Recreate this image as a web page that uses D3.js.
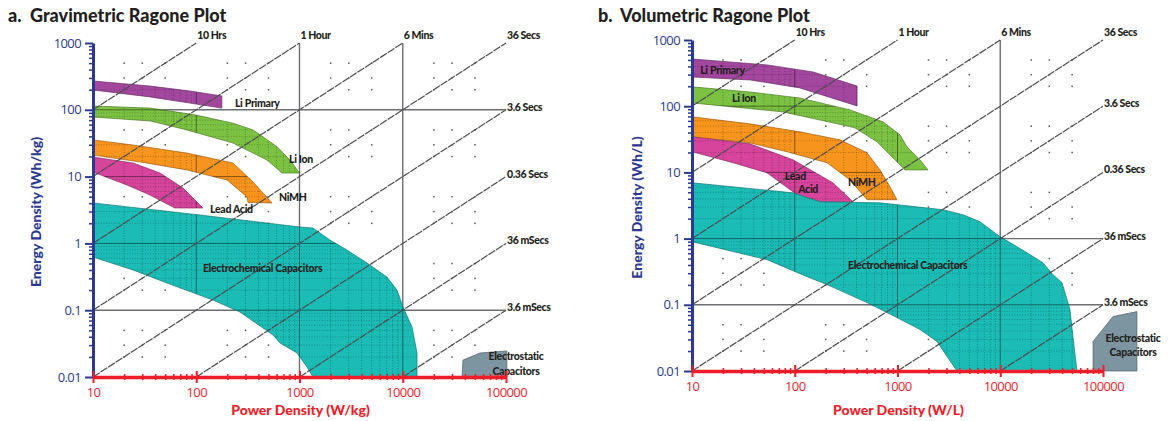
<!DOCTYPE html>
<html>
<head>
<meta charset="utf-8">
<script src="https://cdn.jsdelivr.net/npm/d3@7"></script>
<style>
  body { margin: 0; background: #fff; }
  svg text { font-family: Lato, "Open Sans", sans-serif; }
</style>
</head>
<body>
<script>
// axis ticks
const xTicks = [10, 100, 1000, 10000, 100000];
const xTickLabels = ["10", "100", "1000", "10000", "100000"];
const yTicks = [0.01, 0.1, 1, 10, 100, 1000];
const yTickLabels = ["0.01", "0.1", "1", "10", "100", "1000"];

// discharge time lines, in hours (E = t * P)
const times = [10, 1, 0.1, 0.01, 0.001, 1e-4, 1e-5, 1e-6];
const timeLabels = ["10 Hrs", "1 Hour", "6 Mins", "36 Secs", "3.6 Secs", "0.36 Secs", "36 mSecs", "3.6 mSecs"];

// gravimetric regions, [W/kg, Wh/kg]
const gLiPrimary = [[10,270],[35.6,227],[87,191],[177,161],[177,106],[87,126],[35.6,156],[10,198]];
const gLiIon = [[10,114],[36,106],[97,84],[227,63],[355,50],[606,28],[809,17.7],[1000,11.3],[677,11.3],[485,17.7],[227,31.8],[81,50],[36,68],[10,78]];
const gNiMH = [[10,35.3],[24.4,29.7],[81,22.5],[227,16],[355,8.3],[542,4.03],[317,4.1],[310,4.95],[199,8.9],[81,12.6],[28.5,16.6],[10,21]];
const gLeadAcid = [[10,19.6],[24.4,16],[44.6,11.3],[74.5,6.74],[116,3.39],[62,3.39],[35.6,5.3],[21.3,7.5],[10,11.7]];
const gEC = [[10,4.03],[109,2.66],[1012,1.76],[1352,1.7],[1974,1.12],[2882,0.796],[4505,0.509],[7035,0.314],[8790,0.2],[10050,0.112],[12300,0.056],[13750,0.0229],[13750,0.01],
             [1352,0.01],[1183,0.0141],[946,0.0229],[647,0.0323],[554,0.0425],[265,0.094],[145,0.142],[52,0.255],[24.4,0.4],[10,0.625]];
const gES = [[37500,0.01],[38300,0.0179],[56000,0.0229],[102000,0.0245],[102000,0.01]];

// volumetric regions, [W/L, Wh/L]
const vLiPrimary = [[10,517],[54,420],[151,329],[404,202],[404,101],[112,189],[37,249],[10,277]];
const vLiIon = [[10,196],[36.6,164],[112,133],[345,88],[723,58],[1057,36.9],[1237,24.3],[1654,15.5],[1981,10.9],[1183,10.9],[904,16.6],[631,29],[385,47.1],[235,56],[77,82],[25,97.6],[10,112]];
const vNiMH = [[10,69],[36.6,54.1],[112,41],[275,31],[505,19.8],[676,10.9],[846,6.06],[988,3.87],[505,3.87],[345,7.7],[206,14],[84,20.5],[36.6,27.9],[10,34.4]];
const vLeadAcid = [[10,34.4],[36.6,27],[96,15.5],[235,6.97],[369,3.6],[132,3.6],[96,5.1],[53.7,9.86],[25.1,14],[10,20.5]];
const vEC = [[10,6.97],[96,4.92],[176,3.6],[676,3.47],[2773,2.73],[4339,2.29],[6350,1.8],[9950,1.07],[18200,0.612],[26000,0.433],[32600,0.285],[39900,0.216],[47700,0.0847],[51000,0.0331],[55800,0.01],
             [3790,0.01],[3030,0.0166],[2424,0.0279],[1654,0.0423],[988,0.0641],[505,0.108],[206,0.202],[132,0.266],[53.7,0.481],[10,0.898]];
const vES = [[80000,0.01],[80000,0.0279],[125000,0.0664],[214000,0.0789],[214000,0.01]];

const colors = {
  "Li Primary": "#a3469e",
  "Li Ion": "#7cc242",
  "NiMH": "#f7941d",
  "Lead Acid": "#d6449c",
  "EC": "#1bbcb5",
  "ES": "#7d94a1"
};

const navy = "#2b3990";
const red = "#ee1d2a";

const svg = d3.select("body").append("svg")
  .attr("width", 1171)
  .attr("height", 421);
const defs = svg.append("defs");

const panels = [
  {
    key: "a", letter: "a.", title: "Gravimetric Ragone Plot",
    xTitle: "Power Density (W/kg)", yTitle: "Energy Density (Wh/kg)",
    left: 93, right: 506, top: 43, bottom: 377, titleX: 8, yTitleX: 36,
    vLines: [1000, 10000], hLines: [100, 0.1],
    regions: [
      { name: "Li Primary", pts: gLiPrimary, grid: true },
      { name: "Li Ion", pts: gLiIon, grid: true },
      { name: "NiMH", pts: gNiMH, grid: true },
      { name: "Lead Acid", pts: gLeadAcid, grid: true },
      { name: "EC", pts: gEC, grid: true },
      { name: "ES", pts: gES, grid: false }
    ],
    labels: [
      { text: "Li Primary", at: [237, 126], anchor: "start" },
      { text: "Li Ion", at: [791, 18.3], anchor: "start" },
      { text: "NiMH", at: [632, 4.95], anchor: "start" },
      { text: "Lead Acid", at: [136, 3.27], anchor: "start" },
      { text: "Electrochemical Capacitors", at: [116, 0.43], anchor: "start" },
      { text: "Electrostatic", at: [125000, 0.0202], anchor: "middle" },
      { text: "Capacitors", at: [125000, 0.0123], anchor: "middle" }
    ]
  },
  {
    key: "b", letter: "b.", title: "Volumetric Ragone Plot",
    xTitle: "Power Density (W/L)", yTitle: "Energy Density (Wh/L)",
    left: 692, right: 1103, top: 40, bottom: 371, titleX: 598, yTitleX: 637,
    vLines: [10000], hLines: [1, 0.1],
    regions: [
      { name: "Li Primary", pts: vLiPrimary, grid: true },
      { name: "Li Ion", pts: vLiIon, grid: true },
      { name: "NiMH", pts: vNiMH, grid: true },
      { name: "Lead Acid", pts: vLeadAcid, grid: true },
      { name: "EC", pts: vEC, grid: true },
      { name: "ES", pts: vES, grid: false }
    ],
    labels: [
      { text: "Li Primary", at: [12, 353], anchor: "start" },
      { text: "Li Ion", at: [24.5, 133], anchor: "start" },
      { text: "NiMH", at: [330, 7.2], anchor: "start" },
      { text: "Lead", at: [80, 8.6], anchor: "start" },
      { text: "Acid", at: [108, 5.5], anchor: "start" },
      { text: "Electrochemical Capacitors", at: [330, 0.4], anchor: "start" },
      { text: "Electrostatic", at: [196000, 0.031], anchor: "middle" },
      { text: "Capacitors", at: [196000, 0.019], anchor: "middle" }
    ]
  }
];

const decadesX = [10, 100, 1000, 10000];
const decadesY = [0.01, 0.1, 1, 10, 100];
const minorsX = decadesX.flatMap(d => d3.range(2, 10).map(m => m * d));
const minorsY = decadesY.flatMap(d => d3.range(2, 10).map(m => m * d));

function drawPanel(p) {
  const x = d3.scaleLog().domain([10, 1e5]).range([p.left, p.right]);
  const y = d3.scaleLog().domain([0.01, 1000]).range([p.bottom, p.top]);
  const line = d3.line().x(d => x(d[0])).y(d => y(d[1]));
  const g = svg.append("g");

  // sparse grid dots
  const dotX = decadesX.flatMap(d => [2, 3, 5].map(m => m * d));
  const dotY = decadesY.flatMap(d => [2, 3, 5].map(m => m * d));
  g.append("g").selectAll("rect")
    .data(d3.cross(dotX, dotY))
    .join("rect")
    .attr("x", d => x(d[0]) - 0.7)
    .attr("y", d => y(d[1]) - 0.7)
    .attr("width", 1.5)
    .attr("height", 1.5)
    .attr("fill", "#555");

  // solid grid lines
  g.append("g").selectAll("line")
    .data(p.vLines)
    .join("line")
    .attr("x1", d => x(d)).attr("x2", d => x(d))
    .attr("y1", y(1000)).attr("y2", y(0.01))
    .attr("stroke", "#6d6e71").attr("stroke-width", 1.4);
  g.append("g").selectAll("line")
    .data(p.hLines)
    .join("line")
    .attr("x1", x(10)).attr("x2", x(1e5))
    .attr("y1", d => y(d)).attr("y2", d => y(d))
    .attr("stroke", "#6d6e71").attr("stroke-width", 1.4);

  // regions
  g.append("g").selectAll("path")
    .data(p.regions)
    .join("path")
    .attr("d", r => line(r.pts) + "Z")
    .attr("fill", r => colors[r.name])
    .attr("stroke", r => d3.color(colors[r.name]).darker(1.2))
    .attr("stroke-width", 0.7);

  // grid seen through the regions
  const clipId = "clip-" + p.key;
  defs.append("clipPath").attr("id", clipId)
    .selectAll("path")
    .data(p.regions.filter(r => r.grid))
    .join("path")
    .attr("d", r => line(r.pts) + "Z");

  const inner = g.append("g").attr("clip-path", `url(#${clipId})`);
  inner.selectAll(".mx")
    .data(minorsX)
    .join("line")
    .attr("x1", d => x(d)).attr("x2", d => x(d))
    .attr("y1", y(1000)).attr("y2", y(0.01))
    .attr("stroke", "rgba(0,0,0,0.35)").attr("stroke-width", 0.8)
    .attr("stroke-dasharray", "1,1.6");
  inner.selectAll(".my")
    .data(minorsY)
    .join("line")
    .attr("x1", x(10)).attr("x2", x(1e5))
    .attr("y1", d => y(d)).attr("y2", d => y(d))
    .attr("stroke", "rgba(0,0,0,0.3)").attr("stroke-width", 0.8)
    .attr("stroke-dasharray", "1,1.6");
  inner.selectAll(".dx")
    .data(xTicks)
    .join("line")
    .attr("x1", d => x(d)).attr("x2", d => x(d))
    .attr("y1", y(1000)).attr("y2", y(0.01))
    .attr("stroke", "rgba(0,0,0,0.45)").attr("stroke-width", 1);
  inner.selectAll(".dy")
    .data(yTicks)
    .join("line")
    .attr("x1", x(10)).attr("x2", x(1e5))
    .attr("y1", d => y(d)).attr("y2", d => y(d))
    .attr("stroke", "rgba(0,0,0,0.45)").attr("stroke-width", 1);

  // constant discharge time lines
  const diag = times.map((t, i) => {
    const p0 = Math.max(10, 0.01 / t);
    const p1 = Math.min(1e5, 1000 / t);
    return { t, label: timeLabels[i], pts: [[p0, t * p0], [p1, t * p1]], top: t * 1e5 >= 999 };
  });
  g.append("g").selectAll("path")
    .data(diag)
    .join("path")
    .attr("d", d => line(d.pts))
    .attr("fill", "none")
    .attr("stroke", "#4d4d4f")
    .attr("stroke-width", 1.2)
    .attr("stroke-dasharray", "8,1");

  g.append("g").selectAll("text")
    .data(diag)
    .join("text")
    .attr("x", d => x(d.pts[1][0]) + 1)
    .attr("y", d => d.top ? y(1000) - 4 : y(d.pts[1][1]) + 1)
    .attr("font-size", 10.5)
    .attr("font-weight", 900)
    .attr("letter-spacing", -0.4)
    .attr("fill", "#231f20")
    .text(d => d.label);

  // region labels
  g.append("g").selectAll("text")
    .data(p.labels)
    .join("text")
    .attr("x", d => x(d.at[0]))
    .attr("y", d => y(d.at[1]))
    .attr("dy", "0.35em")
    .attr("text-anchor", d => d.anchor)
    .attr("font-size", 10.5)
    .attr("font-weight", 900)
    .attr("letter-spacing", -0.3)
    .attr("fill", "#231f20")
    .text(d => d.text);

  // y axis
  const yMinor = g.append("g")
    .attr("transform", `translate(${p.left},0)`)
    .call(d3.axisLeft(y).tickValues(minorsY).tickSize(4).tickSizeOuter(0).tickFormat(""));
  yMinor.select(".domain").remove();
  yMinor.selectAll("line").attr("stroke", navy).attr("stroke-width", 1.5);

  const yAx = g.append("g")
    .attr("transform", `translate(${p.left},0)`)
    .call(d3.axisLeft(y).tickValues(yTicks).tickSize(8).tickSizeOuter(0).tickPadding(4)
      .tickFormat((d, i) => yTickLabels[i]));
  yAx.select(".domain").attr("stroke", navy).attr("stroke-width", 3);
  yAx.selectAll("line").attr("stroke", navy).attr("stroke-width", 2);
  yAx.selectAll("text")
    .attr("fill", navy)
    .attr("font-size", 13)
    .attr("letter-spacing", -0.6)
    .style("font-family", "'Open Sans', sans-serif");

  // x axis
  const xMinor = g.append("g")
    .attr("transform", `translate(0,${p.bottom})`)
    .call(d3.axisBottom(x).tickValues(minorsX).tickSize(3).tickSizeOuter(0).tickFormat(""));
  xMinor.select(".domain").remove();
  xMinor.selectAll("line").attr("y1", -3).attr("stroke", red).attr("stroke-width", 1.5);

  const xAx = g.append("g")
    .attr("transform", `translate(0,${p.bottom})`)
    .call(d3.axisBottom(x).tickValues(xTicks).tickSize(6).tickSizeOuter(0).tickPadding(5)
      .tickFormat((d, i) => xTickLabels[i]));
  xAx.select(".domain").attr("stroke", red).attr("stroke-width", 3.5);
  xAx.selectAll("line").attr("y1", -6).attr("stroke", red).attr("stroke-width", 2);
  xAx.selectAll("text")
    .attr("fill", red)
    .attr("font-size", 13)
    .attr("letter-spacing", -0.6)
    .style("font-family", "'Open Sans', sans-serif");

  // axis titles
  g.append("text")
    .attr("x", (p.left + p.right) / 2 + 1)
    .attr("y", 415)
    .attr("text-anchor", "middle")
    .attr("font-size", 14)
    .attr("font-weight", 900)
    .attr("fill", red)
    .text(p.xTitle);

  g.append("text")
    .attr("transform", `translate(${p.yTitleX + 5},${(p.top + p.bottom) / 2 + 2}) rotate(-90)`)
    .attr("text-anchor", "middle")
    .attr("font-size", 14)
    .attr("font-weight", 900)
    .attr("fill", navy)
    .text(p.yTitle);

  // panel title
  const title = g.append("text")
    .attr("x", p.titleX)
    .attr("y", 22)
    .attr("font-size", 18)
    .attr("font-weight", 900)
    .attr("fill", "#231f20");
  title.append("tspan").text(p.letter);
  title.append("tspan").attr("x", p.titleX + 22).text(p.title);
}

panels.forEach(drawPanel);
</script>
</body>
</html>
